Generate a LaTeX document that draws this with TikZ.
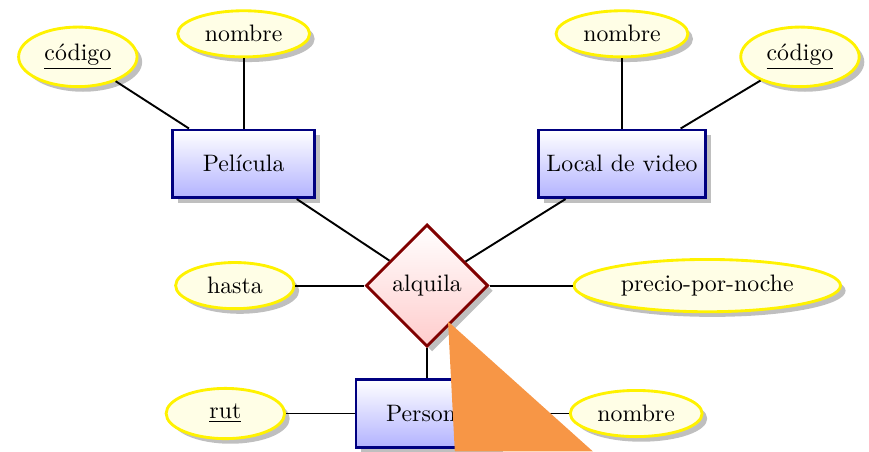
\documentclass[tikz,border=0pt]{standalone}
\usepackage{tikz}
\usetikzlibrary{shapes.geometric,shadows}
\definecolor{overlayorange}{RGB}{247,150,70}

\begin{document}
\begin{tikzpicture}[
  entity/.style={rectangle, draw=blue!50!black, very thick, top color=white, bottom color=blue!30, drop shadow, minimum width=2.1cm, minimum height=1cm},
  relation/.style={diamond, aspect=1, draw=red!50!black, very thick, top color=white, bottom color=red!20, drop shadow},
  attribute/.style={ellipse, draw=yellow, very thick, fill=yellow!10, drop shadow, minimum width=1.75cm},
  link/.style={thick}
]
\useasboundingbox (-6.31,-2.45) rectangle (6.53,4.22);
% entidades y relacion
\node[relation] (alquila) at (0,0) {alquila};
\node[entity] (pelicula) at (-2.71,1.80) {Película};
\node[entity] (local) at (2.88,1.80) {Local de video};
\node[entity] (persona) at (0,-1.89) {Persona};
% atributos
\node[attribute] (pelcodigo) at (-5.16,3.38) {\underline{código}};
\node[attribute] (pelnombre) at (-2.71,3.72) {nombre};
\node[attribute] (locnombre) at (2.88,3.72) {nombre};
\node[attribute] (loccodigo) at (5.51,3.38) {\underline{código}};
\node[attribute] (hasta) at (-2.84,0) {hasta};
\node[attribute] (precio) at (4.14,0) {precio-por-noche};
\node[attribute] (rut) at (-2.98,-1.89) {\underline{rut}};
\node[attribute] (pernombre) at (3.09,-1.89) {nombre};
% conexiones
\draw[link] (pelcodigo) -- (pelicula);
\draw[link] (pelnombre) -- (pelicula);
\draw[link] (locnombre) -- (local);
\draw[link] (loccodigo) -- (local);
\draw[link] (pelicula) -- (alquila);
\draw[link] (local) -- (alquila);
\draw[link] (hasta) -- (alquila);
\draw[link] (precio) -- (alquila);
\draw[link] (alquila) -- (persona);
\draw[link] (rut) -- (persona);
\draw[link] (pernombre) -- (persona);
% triangulo
\fill[overlayorange] (0.31,-0.53) -- (0.41,-2.45) -- (2.45,-2.45) -- cycle;
\end{tikzpicture}
\end{document}
